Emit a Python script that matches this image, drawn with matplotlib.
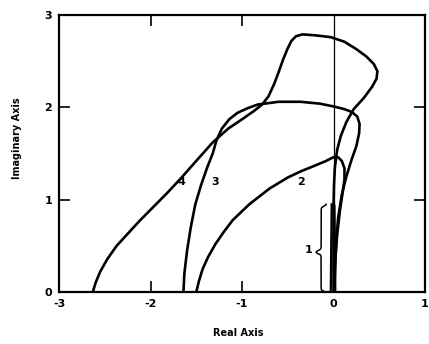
import numpy as np
import matplotlib
matplotlib.use("Agg")
import matplotlib.pyplot as plt

# curves (real part, imaginary part)
re1a = [-0.03, -0.025, -0.02]
im1a = [0.0, 0.5, 0.95]
re1b = [0.0, 0.0, 0.0]
im1b = [0.0, 0.5, 0.96]
re1c = [0.02, 0.015, 0.01]
im1c = [0.0, 0.5, 0.93]

re2 = [-1.50, -1.47, -1.43, -1.37, -1.29, -1.20, -1.10, -0.92, -0.70, -0.50, -0.35, -0.20, -0.08, 0.0, 0.05, 0.09, 0.12, 0.12, 0.10, 0.07, 0.04, 0.02, 0.01]
im2 = [0.0, 0.12, 0.25, 0.38, 0.52, 0.65, 0.78, 0.95, 1.12, 1.24, 1.31, 1.37, 1.42, 1.46, 1.46, 1.42, 1.34, 1.22, 1.08, 0.88, 0.62, 0.35, 0.0]

re3 = [-1.64, -1.63, -1.60, -1.56, -1.51, -1.45, -1.38, -1.32, -1.28, -1.22, -1.14, -1.05, -0.94, -0.83, -0.60, -0.36, -0.15, 0.0, 0.12, 0.20, 0.26, 0.285, 0.28, 0.25, 0.20, 0.14, 0.09, 0.05, 0.03, 0.015, 0.01]
im3 = [0.0, 0.20, 0.45, 0.70, 0.95, 1.15, 1.35, 1.50, 1.64, 1.77, 1.87, 1.94, 1.99, 2.03, 2.06, 2.06, 2.04, 2.01, 1.98, 1.95, 1.90, 1.82, 1.72, 1.58, 1.44, 1.25, 1.05, 0.80, 0.55, 0.25, 0.0]

re4 = [-2.63, -2.60, -2.55, -2.47, -2.37, -2.25, -2.12, -1.97, -1.82, -1.66, -1.50, -1.32, -1.15, -1.00, -0.87, -0.78, -0.71, -0.65, -0.60, -0.55, -0.50, -0.46, -0.41, -0.34, -0.20, -0.03, 0.12, 0.25, 0.36, 0.44, 0.48, 0.47, 0.42, 0.33, 0.22, 0.14, 0.08, 0.04, 0.015, 0.005, 0.0, 0.0]
im4 = [0.0, 0.10, 0.22, 0.36, 0.50, 0.63, 0.77, 0.92, 1.07, 1.24, 1.42, 1.62, 1.77, 1.87, 1.96, 2.03, 2.12, 2.25, 2.38, 2.52, 2.64, 2.72, 2.77, 2.79, 2.78, 2.76, 2.71, 2.63, 2.55, 2.47, 2.39, 2.31, 2.22, 2.10, 1.98, 1.84, 1.69, 1.54, 1.35, 1.15, 0.90, 0.0]

curve_labels = ["1", "2", "3", "4"]
label_re = [-0.27, -0.36, -1.29, -1.66]
label_im = [0.45, 1.19, 1.19, 1.19]

xticks = [-3, -2, -1, 0, 1]
yticks = [0, 1, 2, 3]

fig = plt.figure(figsize=(4.29, 3.44), dpi=100)
ax = fig.add_axes([59/429, 1-292/344, 366/429, 277/344])

lw = 1.9
for r, i in [(re2, im2), (re3, im3), (re4, im4)]:
    ax.plot(r, i, color="black", lw=lw, solid_joinstyle="round", solid_capstyle="round")
for r, i in [(re1a, im1a), (re1b, im1b), (re1c, im1c)]:
    ax.plot(r, i, color="black", lw=1.6)

ax.axvline(0, color="black", lw=0.9)

# curly brace next to curve 1
def brace(x, y0, y1, w, ymid):
    yy = np.linspace(y0, y1, 300)
    beta = 70.0
    def half(u):
        s = lambda v: 1/(1+np.exp(-beta*v))
        return s(u-0.04) + s(u-0.96) - s(-0.04) - s(-0.96)
    xs = np.empty_like(yy)
    lo = yy <= ymid
    xs[lo] = half((yy[lo]-y0)/(ymid-y0))
    xs[~lo] = half((y1-yy[~lo])/(y1-ymid))
    ax.plot(x - w*xs/xs.max(), yy, color="black", lw=1.1)

brace(-0.08, -0.01, 0.95, 0.11, 0.43)

for t, x, y in zip(curve_labels, label_re, label_im):
    ax.text(x, y, t, fontsize=8, fontweight="bold", ha="center", va="center")

ax.set_xlim(-3, 1)
ax.set_ylim(0, 3)
ax.set_xticks(xticks)
ax.set_xticklabels([str(v) if v >= 0 else "-" + str(-v) for v in xticks], fontweight="bold", fontsize=8)
ax.set_yticks(yticks)
ax.set_yticklabels([str(v) for v in yticks], fontweight="bold", fontsize=8)
ax.tick_params(direction="in", length=8, width=1.2, top=True, right=True, pad=5)
# no tick marks at the corners or on the zero line
for t, v in zip(ax.xaxis.get_major_ticks(), xticks):
    if v in (-3, 0, 1):
        t.tick1line.set_visible(False)
        t.tick2line.set_visible(False)
for t, v in zip(ax.yaxis.get_major_ticks(), yticks):
    if v in (0, 3):
        t.tick1line.set_visible(False)
        t.tick2line.set_visible(False)
for s in ax.spines.values():
    s.set_linewidth(1.6)

fig.text(238/429, 1-333/344, "Real Axis", fontsize=7, fontweight="bold", ha="center", va="center")
fig.text(17/429, 1-138/344, "Imaginary Axis", fontsize=7, fontweight="bold", ha="center", va="center", rotation=90)

fig.savefig("out.png", dpi=100)
